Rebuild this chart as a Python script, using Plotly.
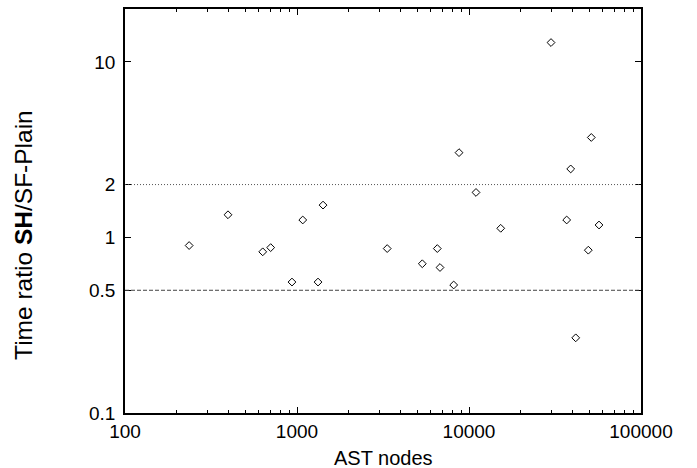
import plotly.graph_objects as go

# Data
ast_nodes = [236, 397, 632, 703, 935, 1080, 1325, 1417, 3345, 5352, 6542, 6783,
             8147, 8750, 10983, 15290, 29980, 36980, 39020, 41730, 49390, 51400, 57000]
time_ratio = [0.899, 1.346, 0.828, 0.875, 0.557, 1.257, 0.557, 1.528, 0.864, 0.708, 0.864, 0.674,
              0.536, 3.04, 1.804, 1.127, 12.88, 1.257, 2.455, 0.268, 0.846, 3.71, 1.177]

x_ticks = [100, 1000, 10000, 100000]
x_minor = [m * d for d in (100, 1000, 10000) for m in range(2, 10)]
y_ticks = [0.1, 0.5, 1, 2, 10]
y_tick_text = ["0.1", "0.5", "1", "2", "10"]
ref_upper = 2
ref_lower = 0.5

FONT = "Liberation Sans, Arial, Helvetica, sans-serif"

fig = go.Figure()
fig.add_trace(go.Scatter(
    x=ast_nodes, y=time_ratio, mode="markers",
    marker=dict(symbol="diamond-open", size=6, color="black", line=dict(width=1, color="black")),
    showlegend=False, cliponaxis=False,
))

fig.add_shape(type="line", xref="paper", x0=0, x1=1, yref="y", y0=ref_upper, y1=ref_upper,
              line=dict(color="#555555", width=1, dash="1px,2px"))
fig.add_shape(type="line", xref="paper", x0=0, x1=1, yref="y", y0=ref_lower, y1=ref_lower,
              line=dict(color="#444444", width=1, dash="4px,2px"))

fig.update_layout(
    width=697, height=468,
    margin=dict(l=125, r=56, t=7, b=55),
    plot_bgcolor="white", paper_bgcolor="white",
    font=dict(family=FONT, size=19, color="black"),
    xaxis=dict(
        type="log", range=[2, 5], showgrid=False, zeroline=False,
        showline=True, linecolor="black", linewidth=1.5, mirror="ticks",
        ticks="inside", ticklen=6, tickwidth=1, tickcolor="black",
        tickmode="array", tickvals=x_ticks, ticktext=[str(v) for v in x_ticks],
        tickfont=dict(size=19),
        minor=dict(ticks="inside", ticklen=3, tickwidth=1, tickcolor="black",
                   tickmode="array", tickvals=x_minor, showgrid=False),
    ),
    yaxis=dict(
        type="log", range=[-1, 1.301], showgrid=False, zeroline=False,
        showline=True, linecolor="black", linewidth=1.5, mirror="ticks",
        ticks="inside", ticklen=6, tickwidth=1, tickcolor="black",
        tickmode="array", tickvals=y_ticks, ticktext=y_tick_text,
        tickfont=dict(size=19), ticklabelstandoff=4,
    ),
    annotations=[
        dict(text="AST nodes", xref="paper", yref="paper", x=0.5, y=(413 - 458) / 406,
             xanchor="center", yanchor="middle", showarrow=False, font=dict(size=20)),
        dict(text="Time ratio <b>SH</b>/SF-Plain", xref="paper", yref="paper",
             x=(24 - 125) / 516, y=(413 - 234) / 406, textangle=-90,
             xanchor="center", yanchor="middle", showarrow=False, font=dict(size=24.5)),
    ],
)

fig.write_html("out.html", config={"displayModeBar": False},
               post_script="document.body.style.margin='0';document.body.style.padding='0';")
